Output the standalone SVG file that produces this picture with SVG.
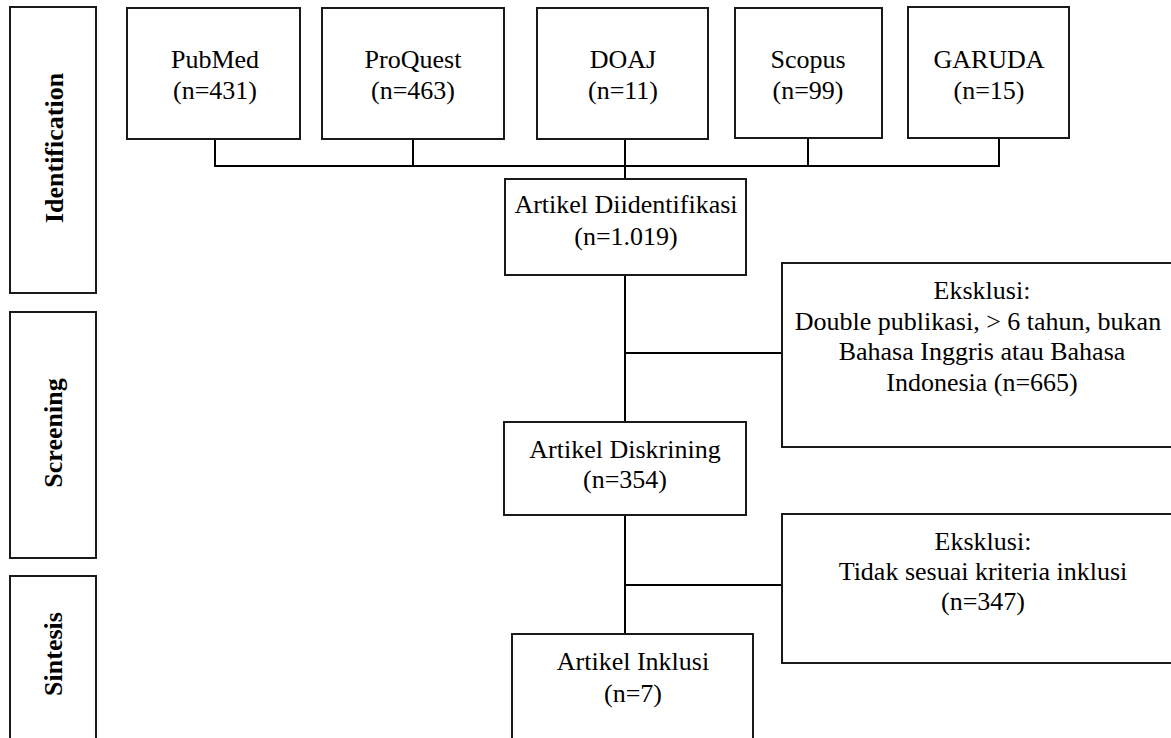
<svg xmlns="http://www.w3.org/2000/svg" width="1171" height="738" viewBox="0 0 1171 738">
<style>
.box{fill:#fff;stroke:#1a1a1a;stroke-width:2}
.t{font-family:"Liberation Serif","Times New Roman",serif;font-size:26px;fill:#000;text-anchor:middle}
.v{font-family:"Liberation Serif","Times New Roman",serif;font-size:26px;font-weight:bold;fill:#000;text-anchor:middle}
.ln{fill:none;stroke:#000;stroke-width:2}
</style>
<rect width="1171" height="738" fill="#fff"/>
<g id="phase-identification"><rect class="box" x="10" y="7" width="86" height="286"/><text class="v" transform="translate(63,148) rotate(-90)">Identification</text></g>
<g id="phase-screening"><rect class="box" x="10" y="312" width="86" height="246"/><text class="v" transform="translate(62,433) rotate(-90)">Screening</text></g>
<g id="phase-sintesis"><rect class="box" x="10" y="576" width="86" height="170"/><text class="v" transform="translate(62,654) rotate(-90)">Sintesis</text></g>
<g id="connectors">
<path class="ln" d="M215,139V166H999V138M413,139V166M808,138V166M625,139V179"/>
<path class="ln" d="M625,275V422M625,353H782"/>
<path class="ln" d="M625,515V634M626,585H782"/>
</g>
<g id="pubmed"><rect class="box" x="127" y="8" width="173" height="131"/><text class="t" x="215" y="68">PubMed</text><text class="t" x="215" y="99">(n=431)</text></g>
<g id="proquest"><rect class="box" x="322" y="8" width="182" height="131"/><text class="t" x="413" y="68">ProQuest</text><text class="t" x="413" y="99">(n=463)</text></g>
<g id="doaj"><rect class="box" x="537" y="8" width="171" height="131"/><text class="t" x="623" y="68">DOAJ</text><text class="t" x="623" y="99">(n=11)</text></g>
<g id="scopus"><rect class="box" x="735" y="8" width="147" height="130"/><text class="t" x="808" y="68">Scopus</text><text class="t" x="808" y="99">(n=99)</text></g>
<g id="garuda"><rect class="box" x="908" y="7" width="161" height="131"/><text class="t" x="989" y="68">GARUDA</text><text class="t" x="989" y="99">(n=15)</text></g>
<g id="artikel-diidentifikasi"><rect class="box" x="505" y="179" width="241" height="96"/><text class="t" x="626" y="213">Artikel Diidentifikasi</text><text class="t" x="626" y="245">(n=1.019)</text></g>
<g id="eksklusi-1"><rect class="box" x="782" y="263" width="400" height="184"/><text class="t" x="982" y="299">Eksklusi:</text><text class="t" x="978" y="330">Double publikasi, &gt; 6 tahun, bukan</text><text class="t" x="982" y="360">Bahasa Inggris atau Bahasa</text><text class="t" x="982" y="391">Indonesia (n=665)</text></g>
<g id="artikel-diskrining"><rect class="box" x="504" y="422" width="242" height="93"/><text class="t" x="625" y="458">Artikel Diskrining</text><text class="t" x="625" y="488">(n=354)</text></g>
<g id="eksklusi-2"><rect class="box" x="782" y="514" width="400" height="149"/><text class="t" x="983" y="550">Eksklusi:</text><text class="t" x="983" y="580">Tidak sesuai kriteria inklusi</text><text class="t" x="983" y="610">(n=347)</text></g>
<g id="artikel-inklusi"><rect class="box" x="512" y="634" width="241" height="112"/><text class="t" x="633" y="670">Artikel Inklusi</text><text class="t" x="633" y="702">(n=7)</text></g>
</svg>
